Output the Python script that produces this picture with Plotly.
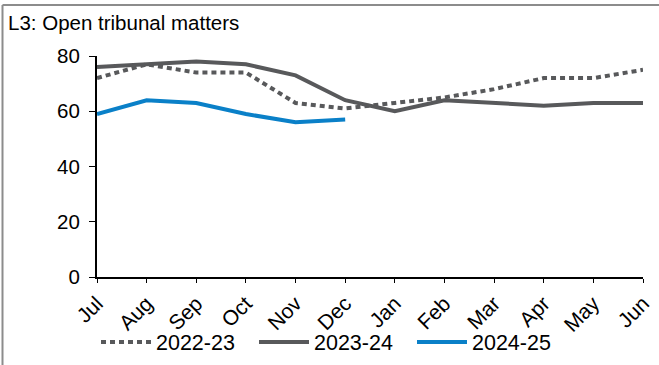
import plotly.graph_objects as go

months = ["Jul", "Aug", "Sep", "Oct", "Nov", "Dec", "Jan", "Feb", "Mar", "Apr", "May", "Jun"]
s2022_23 = [72, 77, 74, 74, 63, 61, 63, 65, 68, 72, 72, 75]
s2023_24 = [76, 77, 78, 77, 73, 64, 60, 64, 63, 62, 63, 63]
s2024_25 = [59, 64, 63, 59, 56, 57]
y_ticks = [0, 20, 40, 60, 80]

GRAY = "#58595B"
BLUE = "#0A80C8"
FONT = "Liberation Sans, Arial, sans-serif"

# plot area in pixels (for paper-coordinate conversions)
W, H = 659, 365
L, R, T, B = 97, 16, 56, 88
pw, ph = W - L - R, H - T - B

def px(x):
    return (x - L) / pw

def py(y):
    return (H - B - y) / ph

fig = go.Figure()
fig.add_trace(go.Scatter(x=list(range(len(s2022_23))), y=s2022_23, mode="lines", name="2022-23",
                         line=dict(color=GRAY, width=4, dash="5px,4px")))
fig.add_trace(go.Scatter(x=list(range(len(s2023_24))), y=s2023_24, mode="lines", name="2023-24",
                         line=dict(color=GRAY, width=4)))
fig.add_trace(go.Scatter(x=list(range(len(s2024_25))), y=s2024_25, mode="lines", name="2024-25",
                         line=dict(color=BLUE, width=4)))

fig.update_layout(
    width=W, height=H,
    margin=dict(l=L, r=R, t=T, b=B, pad=0, autoexpand=False),
    paper_bgcolor="white", plot_bgcolor="white",
    font=dict(family=FONT, size=20, color="black"),
    title=dict(text="L3: Open tribunal matters", xref="container", yref="container",
               x=8 / W, y=1 - 23 / H, xanchor="left", yanchor="middle",
               font=dict(size=20.5, color="black")),
    showlegend=True,
    legend=dict(orientation="h", xref="container", yref="container",
                x=96 / W, xanchor="left", y=1 - 342 / H, yanchor="middle",
                font=dict(size=21.5), entrywidth=93, entrywidthmode="pixels",
                bgcolor="rgba(0,0,0,0)", tracegroupgap=0, itemwidth=50),
    xaxis=dict(range=[0, 11], tickmode="array", tickvals=list(range(len(months))), ticktext=months,
               tickangle=-45, showgrid=False, zeroline=False, showline=True, linecolor="black",
               linewidth=2, ticks="outside", ticklen=4, tickcolor="black", tickwidth=1,
               tickfont=dict(size=21), automargin=False),
    yaxis=dict(range=[0, 80], tickmode="array", tickvals=y_ticks, showgrid=False, zeroline=False,
               showline=True, linecolor="black", linewidth=2, ticks="outside", ticklen=6,
               tickcolor="black", tickwidth=1, tickfont=dict(size=20.5), ticklabelstandoff=5,
               automargin=False),
    shapes=[
        dict(type="line", xref="paper", yref="paper", x0=px(2.5), x1=px(660), y0=py(5), y1=py(5),
             line=dict(color="#8C8C8C", width=2)),
        dict(type="line", xref="paper", yref="paper", x0=px(2.5), x1=px(2.5), y0=py(5), y1=py(366),
             line=dict(color="#8C8C8C", width=2)),
    ],
)

fig.write_html("out.html", config={"displayModeBar": False},
               post_script="document.body.style.margin='0';")
